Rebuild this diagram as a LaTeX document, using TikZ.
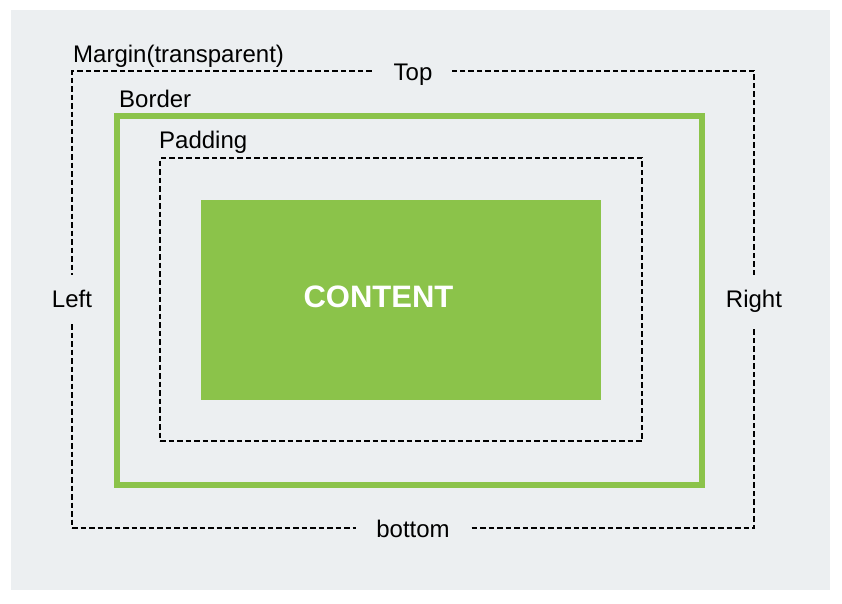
\documentclass[tikz,border=0pt]{standalone}
\usepackage{fontspec}
\setmainfont{Liberation Sans}
\definecolor{boxgreen}{HTML}{8BC34A}
\definecolor{boxgray}{HTML}{ECEFF1}
\begin{document}
\begin{tikzpicture}[x=1pt,y=-1pt]

      \useasboundingbox (0,0) rectangle (842,603);
      \fill[boxgray] (11,10) rectangle (830,590);

      \begin{scope}[every node/.style={outer sep=0pt,inner sep=0pt}]
        \node (margin)  [draw,line width=2.2pt,dash pattern=on 5.5pt off 3pt,
                         minimum width=682pt,minimum height=457pt] at (413,299.5) {};
        \node (border)  [draw=boxgreen,line width=6pt,
                         minimum width=585pt,minimum height=369pt] at (409.5,300.5) {};
        \node (padding) [draw,line width=2.2pt,dash pattern=on 5.5pt off 3pt,
                         minimum width=482pt,minimum height=283pt] at (401,299.5) {};
        \node (content) [fill=boxgreen,
                         minimum width=400pt,minimum height=200pt] at (401,300) {};
      \end{scope}

      \begin{scope}[every node/.style={inner sep=0pt,font=\fontsize{24}{28}\selectfont}]
        \node (marginlabel)  [anchor=base west] at ([shift={(1pt,9pt)}]margin.north west) {Margin(transparent)};
        \node (borderlabel)  [anchor=base west] at ([shift={(2pt,9pt)}]border.north west) {Border};
        \node (paddinglabel) [anchor=base west] at ([shift={(-1pt,10pt)}]padding.north west) {Padding};
        \node (contentlabel) [anchor=base,text=white,font=\fontsize{31}{36}\selectfont\bfseries]
              at (378.5,307.5) {CONTENT};

        \begin{scope}[every node/.append style={fill=boxgray,anchor=base}]
          \node (top)    [inner xsep=20pt,inner ysep=4pt] at ([yshift=-9pt]margin.north) {Top};
          \node (bottom) [inner xsep=20pt,inner ysep=4pt] at ([yshift=-9pt]margin.south) {bottom};
          \node (left)   [inner xsep=3pt,inner ysep=14.5pt] at ([yshift=-7.5pt]margin.west) {Left};
          \node (right)  [inner xsep=3pt,inner ysep=14.5pt] at ([yshift=-7.5pt]margin.east) {Right};
        \end{scope}
      \end{scope}

    \end{tikzpicture}
\end{document}
